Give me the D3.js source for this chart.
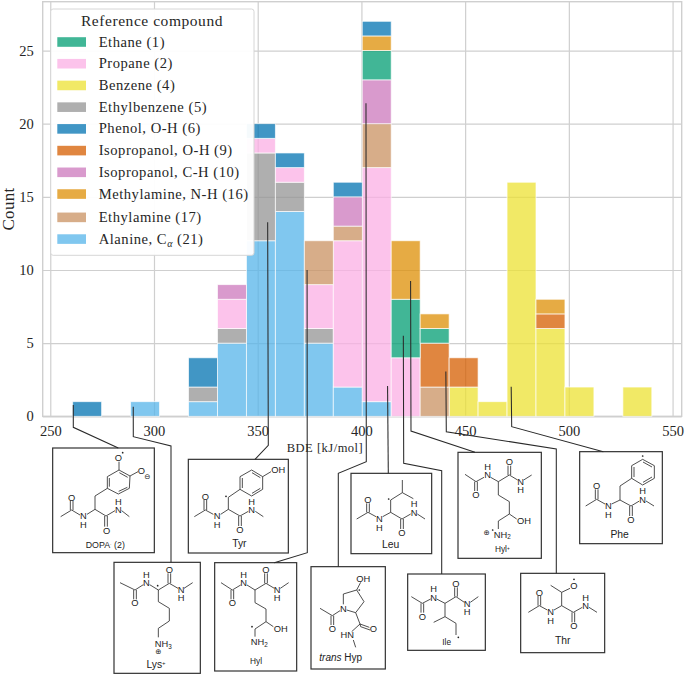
<!DOCTYPE html>
<html>
<head>
<meta charset="utf-8">
<script src="https://cdnjs.cloudflare.com/ajax/libs/d3/7.8.5/d3.min.js"></script>
<style>
  body { margin: 0; background: #fff; }
  svg { opacity: 0.999; }
  text { font-family: "Liberation Serif", serif; fill: #262626; }
  .mol text { font-family: "Liberation Sans", "DejaVu Sans", sans-serif; fill: #222; }
</style>
</head>
<body>
<div id="chart"></div>
<script>
// Histogram bins (BDE, kJ/mol)
var firstEdge = 260.8;
var binWidth = 13.96;
var binStarts = d3.range(20).map(function(i) { return firstEdge + i * binWidth; });

// Counts per bin for each reference compound
var ethane       = [0,0,0,0,0,0,0,0,0,0,2,4,1,0,0,0,0,0,0,0];
var propane      = [0,0,0,0,0,2,1,1,3,10,16,4,0,0,0,0,0,0,0,0];
var benzene      = [0,0,0,0,0,0,0,0,0,0,0,0,0,2,1,16,6,2,0,2];
var ethylbenzene = [0,0,0,0,1,1,6,2,1,0,0,0,0,0,0,0,0,0,0,0];
var phenol       = [1,0,0,0,2,0,1,1,0,1,1,0,0,0,0,0,0,0,0,0];
var isoOH        = [0,0,0,0,0,0,0,0,0,0,0,0,3,2,0,0,1,0,0,0];
var isoCH        = [0,0,0,0,0,1,0,0,0,2,3,0,0,0,0,0,0,0,0,0];
var methylamine  = [0,0,0,0,0,0,0,0,0,0,1,4,1,0,0,0,1,0,0,0];
var ethylamine   = [0,0,0,0,0,0,0,0,3,1,3,0,2,0,0,0,0,0,0,0];
var alanine      = [0,0,1,0,1,5,12,14,5,2,1,0,0,0,0,0,0,0,0,0];

var legendNames = ["Ethane (1)", "Propane (2)", "Benzene (4)", "Ethylbenzene (5)", "Phenol, O-H (6)",
  "Isopropanol, O-H (9)", "Isopropanol, C-H (10)", "Methylamine, N-H (16)", "Ethylamine (17)",
  "Alanine, C<tspan font-style='italic' font-size='10' dy='3'>α</tspan><tspan dy='-3'> (21)</tspan>"];
var seriesValues = [ethane, propane, benzene, ethylbenzene, phenol, isoOH, isoCH, methylamine, ethylamine, alanine];
var colors = ["#029e73", "#fbafe4", "#ece133", "#949494", "#0173b2", "#d55e00", "#cc78bc", "#de8f05", "#ca9161", "#56b4e9"];
// legend index of each series, bottom of the stack first
var stackOrder = [9, 3, 1, 2, 8, 5, 6, 0, 7, 4];

var xTicks = [250, 300, 350, 400, 450, 500, 550];
var yTicks = [0, 5, 10, 15, 20, 25];

var svgWidth = 685;
var svgHeight = 675;
var margin = { top: 1.7, right: 3.3, bottom: 258.7, left: 42.7 };
var width = svgWidth - margin.left - margin.right;
var height = svgHeight - margin.top - margin.bottom;

var svg = d3.select("#chart").append("svg")
  .attr("width", svgWidth)
  .attr("height", svgHeight)
  .style("display", "block");

var chartGroup = svg.append("g")
  .attr("transform", `translate(${margin.left}, ${margin.top})`);

var xScale = d3.scaleLinear().domain([246.35, 554.4]).range([0, width]);
var yScale = d3.scaleLinear().domain([0, 28.34]).range([height, 0]);

// Grid comes from the axes themselves
var bottomAxis = d3.axisBottom(xScale).tickValues(xTicks).tickSize(-height).tickPadding(9.5).tickFormat(d3.format("d"));
var leftAxis = d3.axisLeft(yScale).tickValues(yTicks).tickSize(-width).tickPadding(9);

var xAxisG = chartGroup.append("g").attr("transform", `translate(0, ${height})`).call(bottomAxis);
var yAxisG = chartGroup.append("g").call(leftAxis);
[xAxisG, yAxisG].forEach(function(g) {
  g.select(".domain").remove();
  g.selectAll("line").attr("stroke", "#cfcfcf").attr("stroke-width", 1.2);
  g.selectAll("text").attr("font-size", 14.5).attr("font-family", "Liberation Serif").attr("fill", "#262626");
});

// Axes frame
chartGroup.append("rect")
  .attr("width", width).attr("height", height)
  .attr("fill", "none").attr("stroke", "#cfcfcf").attr("stroke-width", 1.4);

// Stacked bars
var rows = binStarts.map(function(start, i) {
  var row = { start: start };
  seriesValues.forEach(function(values, s) { row[s] = values[i]; });
  return row;
});
var stacked = d3.stack().keys(stackOrder)(rows);

chartGroup.selectAll("g.layer").data(stacked).enter().append("g")
  .attr("class", "layer")
  .attr("fill", function(d) { return colors[d.key]; })
  .selectAll("rect")
  .data(function(d) { return d.filter(function(p) { return p[1] > p[0]; }); })
  .enter().append("rect")
  .attr("x", function(d) { return xScale(d.data.start); })
  .attr("width", function(d) { return xScale(d.data.start + binWidth) - xScale(d.data.start); })
  .attr("y", function(d) { return yScale(d[1]); })
  .attr("height", function(d) { return yScale(d[0]) - yScale(d[1]); })
  .attr("fill-opacity", 0.75)
  .attr("stroke", "#fff")
  .attr("stroke-opacity", 0.75)
  .attr("stroke-width", 0.9);

// Axis labels
svg.append("text")
  .attr("x", 325).attr("y", 452)
  .attr("text-anchor", "middle").attr("font-size", 12.5).attr("letter-spacing", 0.5)
  .text("BDE [kJ/mol]");

svg.append("text")
  .attr("transform", "translate(13.5, 209) rotate(-90)")
  .attr("text-anchor", "middle").attr("font-size", 17).attr("letter-spacing", 0.3)
  .text("Count");

// Legend
var legend = svg.append("g");
legend.append("rect")
  .attr("x", 50.7).attr("y", 9).attr("width", 203.3).attr("height", 246.3).attr("rx", 2.5)
  .attr("fill", "#fff").attr("fill-opacity", 0.95).attr("stroke", "#d6d6d6").attr("stroke-width", 1);
legend.append("text")
  .attr("x", 152).attr("y", 26)
  .attr("text-anchor", "middle").attr("font-size", 15.5).attr("letter-spacing", 0.55)
  .text("Reference compound");

legendNames.forEach(function(name, i) {
  var cy = 42 + i * 21.72 + (i >= 8 ? 1.6 : 0);
  legend.append("rect")
    .attr("x", 57.3).attr("y", cy - 4.8).attr("width", 28.7).attr("height", 9.6)
    .attr("fill", colors[i]).attr("fill-opacity", 0.75);
  legend.append("text")
    .attr("x", 98.7).attr("y", cy + 4.6)
    .attr("font-size", 14.6).attr("letter-spacing", 0.52)
    .html(name);
});

// Structure panels: coordinates are in 1/3 px, relative to a panel origin
var leftOrigin = [40, 420];
var rightOrigin = [340, 420];

var leftPanels = [
  { box: [38, 84, 305, 314],
    bonds: "M62 290L95 270M91 270V242M99 270V242M95 270L120 285M141 283L165 268L198 288M194 288V320M202 288V320M198 288L225 272M245 272L268 290M165 268V228L202 205V170L237 150L270 168L268 205L235 222L202 205M208 200V174M238 158L263 172M262 202L236 214M237 150V125M270 168L294 155",
    labels: [[235,112,"O"],[304,151,"O"],[322,170,"⊖",22],[95,232,"O"],[130,288,"N"],[130,315,"H"],[200,332,"O"],[235,270,"N"],[235,245,"H"],[196,373,"DOPA<tspan dy='-6' font-size='14'>·</tspan><tspan dy='6'> (2)</tspan>",26.5]],
    dots: [[248,98]] },
  { box: [445, 118, 300, 281],
    bonds: "M463 290L496 270M492 270V240M500 270V240M496 270L520 283M542 283L565 268L600 288M596 288V318M604 288V318M600 288L625 274M646 274L670 290M565 268V232L600 208V170L635 150L668 170V208L635 228L600 208M607 204V174M636 158L661 173M661 205L636 220M668 170L693 155",
    labels: [[496,229,"O"],[531,288,"N"],[531,314,"H"],[600,329,"O"],[635,268,"N"],[635,244,"H"],[715,150,"OH"],[598,370,"Tyr",31]],
    dots: [[558,229]] },
  { box: [222, 427, 259, 333],
    bonds: "M240 488L285 510M281 510V538M289 510V538M285 510L310 494M329 494L355 510L388 490M384 490V460M392 490V460M388 490L414 505M432 505L458 488M355 510V545L388 565V603L355 625V652",
    labels: [[285,549,"O"],[319,488,"N"],[319,463,"H"],[388,449,"O"],[423,510,"N"],[423,534,"H"],[370,672,"NH<tspan dy='5' font-size='19'>3</tspan>"],[355,695,"⊕",22],[348,733,"Lys<tspan dy='-8' font-size='18'>+</tspan>",31]],
    dots: [[353,497]] },
  { box: [524, 428, 246, 325],
    bonds: "M543 488L577 510M573 510V538M581 510V538M577 510L602 495M621 495L645 510L678 490M674 490V460M682 490V460M678 490L703 505M721 505L746 488M645 510V548L678 567V605L645 627V650M678 605L700 620",
    labels: [[577,549,"O"],[611,488,"N"],[611,463,"H"],[678,450,"O"],[711,510,"N"],[711,534,"H"],[658,665,"NH<tspan dy='5' font-size='19'>2</tspan>"],[722,626,"OH"],[648,722,"Hyl",25]],
    dots: [[636,620]] }
];

var rightPanels = [
  { box: [-87, 440, 223, 307],
    bonds: "M-60 565L-23 587M-27 587V615M-19 587V615M-23 587L0 572M10 553V522L50 510L72 545L47 578L20 570M50 510L62 487M47 578L60 612L88 622M60 612L62 620L90 630M60 612L35 635M40 660L47 682",
    labels: [[-23,627,"O"],[10,565,"N"],[70,475,"OH"],[100,626,"O"],[22,645,"HN"],[2,713,"<tspan font-style='italic'>trans</tspan> Hyp",30]],
    dots: [[58,510]] },
  { box: [33, 160, 242, 241],
    bonds: "M50 297L84 277M80 277V250M88 277V250M84 277L108 290M128 290L152 277L186 297M182 297V327M190 297V327M186 297L212 282M232 282L255 297M152 277V240L187 218V180M187 218L220 236",
    labels: [[84,239,"O"],[118,295,"N"],[118,322,"H"],[186,338,"O"],[222,278,"N"],[222,252,"H"],[152,373,"Leu",31]],
    dots: [[146,237]] },
  { box: [354, 97, 250, 318],
    bonds: "M375 163L408 185M404 185V213M412 185V213M408 185L432 172M452 172L475 185L508 165M504 165V137M512 165V137M508 165L533 180M551 180L575 165M475 185V225L508 245V282L475 303V327M508 282L530 297",
    labels: [[408,224,"O"],[443,165,"N"],[443,140,"H"],[508,126,"O"],[542,185,"N"],[542,210,"H"],[552,302,"OH"],[440,338,"⊕",22],[487,343,"NH<tspan dy='5' font-size='19'>2</tspan>"],[487,388,"Hyl<tspan dy='-6' font-size='14'>+</tspan>",25]],
    dots: [[458,330]] },
  { box: [203, 462, 233, 229],
    bonds: "M214 530L247 550M243 550V578M251 550V578M247 550L272 537M290 537L315 550L348 530M344 530V502M352 530V502M348 530L373 547M391 547L415 530M315 550V590L281 607M315 590L348 610V645",
    labels: [[247,590,"O"],[281,533,"N"],[281,507,"H"],[348,491,"O"],[381,550,"N"],[381,575,"H"],[320,666,"Ile",25]],
    dots: [[355,652]] },
  { box: [542, 460, 252, 238],
    bonds: "M565 577L598 557M594 557V528M602 557V528M598 557L622 570M642 570L665 557L700 577M696 577V607M704 577V607M700 577L727 562M747 562L771 577M665 557V517L632 496M665 517L690 505",
    labels: [[598,517,"O"],[632,575,"N"],[632,602,"H"],[702,618,"O"],[737,558,"N"],[737,533,"H"],[702,497,"O"],[668,662,"Thr",31]],
    dots: [[702,478]] },
  { box: [719, 95, 248, 276],
    bonds: "M737 258L770 238M766 238V208M774 238V208M770 238L795 252M815 252L840 240L873 258M869 258V288M877 258V288M873 258L898 243M918 243L942 258M840 240V198L875 175V137L908 118L943 137V175L908 195L875 175M882 171V141M909 126L936 141M936 171L909 187",
    labels: [[770,198,"O"],[805,257,"N"],[805,284,"H"],[873,299,"O"],[908,238,"N"],[908,212,"H"],[839,342,"Phe",31]],
    dots: [[908,108]] }
];

function drawPanels(panels, origin) {
  var group = svg.append("g").attr("class", "mol")
    .attr("transform", `translate(${origin[0]}, ${origin[1]}) scale(${1 / 3})`);
  panels.forEach(function(p) {
    group.append("rect")
      .attr("x", p.box[0]).attr("y", p.box[1]).attr("width", p.box[2]).attr("height", p.box[3])
      .attr("fill", "#fff").attr("stroke", "#333").attr("stroke-width", 3.6);
    group.append("path").attr("d", p.bonds).attr("fill", "none").attr("stroke", "#222").attr("stroke-width", 2.4);
    group.selectAll(null).data(p.dots).enter().append("circle")
      .attr("cx", function(d) { return d[0]; }).attr("cy", function(d) { return d[1]; })
      .attr("r", 2.6).attr("fill", "#222");
    p.labels.forEach(function(l) {
      group.append("text")
        .attr("x", l[0]).attr("y", l[1]).attr("dy", "0.36em")
        .attr("text-anchor", "middle").attr("font-size", l[3] || 28)
        .html(l[2]);
    });
  });
}
drawPanels(leftPanels, leftOrigin);
drawPanels(rightPanels, rightOrigin);

// Leader lines: anchor in data units, then elbows in page pixels
var leaders = [
  { at: [261.1, 0.77], elbows: [[73.3,427.3],[118.3,448]] },
  { at: [290, 0.66], elbows: [[133.3,436.7],[171,446],[171,562.3]] },
  { at: [354.8, 13.26], elbows: [[268.3,445.3],[255,459.3]] },
  { at: [373.8, 10], elbows: [[307.3,552.7],[274.3,562.7]] },
  { at: [402.2, 21.4], elbows: [[366.3,461.7],[338.3,473.3],[338.3,566.7]] },
  { at: [412.6, 2.07], elbows: [[388.3,473.3]] },
  { at: [420.2, 5.5], elbows: [[403.7,463.3],[441.7,470.7],[441.7,574]] },
  { at: [423.7, 9.25], elbows: [[411,431],[475,452.3]] },
  { at: [440.7, 3.07], elbows: [[446.3,431.7],[556.3,449],[556.3,573.3]] },
  { at: [472.2, 2.02], elbows: [[511.7,426.7],[603.3,451.7]] }
];
var leaderLine = d3.line();
svg.selectAll("path.leader").data(leaders).enter().append("path")
  .attr("class", "leader")
  .attr("d", function(d) {
    return leaderLine([[xScale(d.at[0]) + margin.left, yScale(d.at[1]) + margin.top]].concat(d.elbows));
  })
  .attr("fill", "none").attr("stroke", "#2a2a2a").attr("stroke-width", 1.05);
</script>
</body>
</html>
